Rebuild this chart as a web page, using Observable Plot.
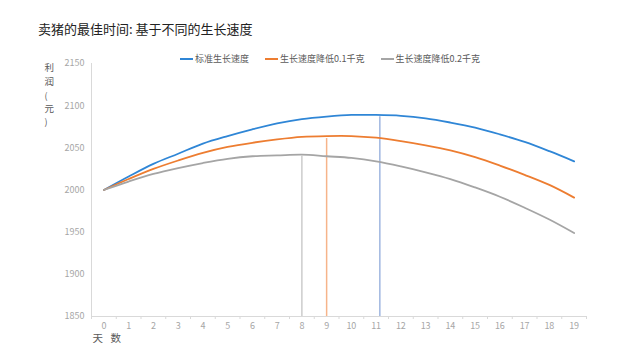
<!DOCTYPE html>
<html><head><meta charset="utf-8">
<script src="https://cdn.jsdelivr.net/npm/d3@7"></script>
<script src="https://cdn.jsdelivr.net/npm/@observablehq/plot@0.6"></script>
<style>
body{margin:0;background:#fff;font-family:"Noto Sans CJK SC","Noto Sans",sans-serif;}
#wrap{position:relative;width:640px;height:360px;overflow:hidden;}
#title{position:absolute;left:38px;top:21px;font-size:13px;color:#222;white-space:nowrap;line-height:16px;}
#legend{position:absolute;left:180px;top:52px;display:flex;gap:16px;font-size:9px;color:#595959;white-space:nowrap;line-height:13px;}
#legend .it{display:flex;align-items:center;}
#legend .sw{display:inline-block;width:13px;height:2px;margin-right:2px;}
#chart{position:absolute;left:0;top:0;}
</style></head><body>
<div id="wrap"><div id="chart"></div><div id="title"></div><div id="legend"></div></div>
<script>
const titleText = "卖猪的最佳时间: 基于不同的生长速度";
const yLabel = ["利", "润", "(", "元", ")"];
const xLabel = ["天", "数"];
const days = [0,1,2,3,4,5,6,7,8,9,10,11,12,13,14,15,16,17,18,19];
const seriesNames = ["标准生长速度", "生长速度降低0.1千克", "生长速度降低0.2千克"];
const seriesColors = ["#2f86d6", "#ed7d31", "#a5a5a5"];
const optColors = ["#9fb6e0", "#f6b48a", "#cccccc"];
const standard = [2000,2016,2031,2043,2055,2064,2072,2079,2084,2087,2089,2089,2088,2085,2080,2074,2066,2057,2046,2034];
const minus01  = [2000,2013,2025,2035,2044,2051,2056,2060,2063,2064,2064,2062,2058,2053,2047,2039,2029,2018,2006,1991];
const minus02  = [2000,2010,2019,2026,2032,2037,2040,2041,2042,2040,2038,2034,2028,2021,2013,2003,1992,1979,1965,1949];
const optDay    = [11.15, 9, 8];
const optProfit = [2087, 2061, 2040];
const yTicks = [1850,1900,1950,2000,2050,2100,2150];

const seriesValues = [standard, minus01, minus02];

document.getElementById("title").textContent = titleText;
const lg = document.getElementById("legend");
seriesNames.forEach((n,i)=>{
  const it = document.createElement("div"); it.className="it";
  const sw = document.createElement("span"); sw.className="sw"; sw.style.background=seriesColors[i];
  const tx = document.createElement("span"); tx.textContent=n;
  it.appendChild(sw); it.appendChild(tx); lg.appendChild(it);
});

const marks = [
  Plot.ruleY([1850], {stroke:"#d9d9d9"}),
  Plot.ruleX([-0.5], {stroke:"#d9d9d9"}),
];
optDay.forEach((d,i)=>{
  marks.push(Plot.ruleX([{x:d, y:optProfit[i]}], {x:"x", y1:1850, y2:"y", stroke:optColors[i], strokeWidth:1.5}));
});
seriesValues.forEach((vals,i)=>{
  const data = days.map((d,j)=>({day:d, profit:vals[j]}));
  marks.push(Plot.line(data, {x:"day", y:"profit", stroke:seriesColors[i], strokeWidth:1.8, curve:"catmull-rom"}));
});
const halfTicks = days.map(d=>d-0.5).concat([19.5]);
marks.push(Plot.axisY({ticks:yTicks, tickSize:0, tickPadding:7, fontSize:9, color:"#a6a6a6", tickFormat:d=>String(d), label:null}));
marks.push(Plot.axisX({ticks:days, tickSize:0, tickPadding:6, fontSize:9, color:"#a6a6a6", tickFormat:d=>String(d), label:null}));
marks.push(Plot.axisX({ticks:halfTicks, tickSize:3, stroke:"#d9d9d9", text:null, label:null}));
// y label stacked
const yl = [64, 78, 92, 105, 118];
yLabel.forEach((c,i)=>{
  marks.push(Plot.text([c], {text:d=>d, frameAnchor:"top-left", dx:-47, dy:yl[i]-63, fontSize:i===2||i===4?9:9.5, fill:"#595959"}));
});
const xl = [92, 110];
xLabel.forEach((c,i)=>{
  marks.push(Plot.text([c], {text:d=>d, frameAnchor:"bottom-left", dx:xl[i]-91, dy:25, fontSize:10.5, fill:"#595959"}));
});

const chart = Plot.plot({
  width:640, height:360,
  marginLeft:91, marginRight:54, marginTop:63, marginBottom:44,
  x:{domain:[-0.5,19.5]},
  y:{domain:[1850,2150]},
  style:{fontFamily:'"Noto Sans CJK SC","Noto Sans",sans-serif', background:"#fff", overflow:"visible"},
  marks
});
document.getElementById("chart").appendChild(chart);
</script>
</body></html>
